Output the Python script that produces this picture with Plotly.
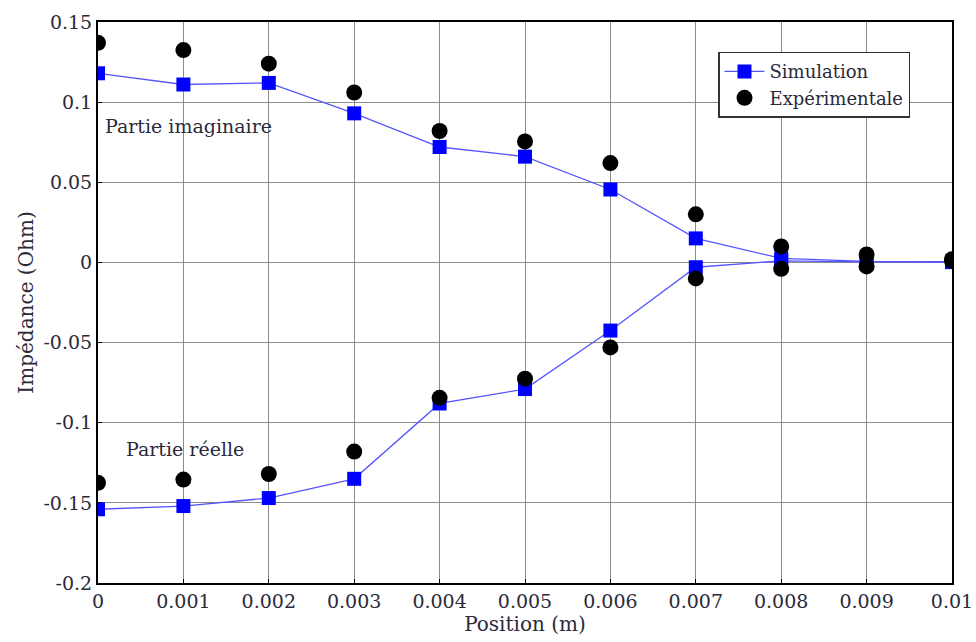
import plotly.graph_objects as go

positions = [0, 0.001, 0.002, 0.003, 0.004, 0.005, 0.006, 0.007, 0.008, 0.009, 0.01]
sim_imag = [0.118, 0.111, 0.112, 0.093, 0.072, 0.066, 0.0455, 0.015, 0.0025, 0.0007, 0.0005]
exp_imag = [0.137, 0.1325, 0.124, 0.106, 0.082, 0.0755, 0.062, 0.030, 0.010, 0.005, 0.002]
sim_real = [-0.154, -0.152, -0.147, -0.135, -0.088, -0.079, -0.0425, -0.003, 0.001, 0.0003, 0.0002]
exp_real = [-0.1375, -0.1355, -0.132, -0.118, -0.0845, -0.0725, -0.053, -0.010, -0.004, -0.0025, 0.001]

x_ticks = [0, 0.001, 0.002, 0.003, 0.004, 0.005, 0.006, 0.007, 0.008, 0.009, 0.01]
x_labels = ["0", "0.001", "0.002", "0.003", "0.004", "0.005", "0.006", "0.007", "0.008", "0.009", "0.01"]
y_ticks = [0.15, 0.1, 0.05, 0, -0.05, -0.1, -0.15, -0.2]
y_labels = ["0.15", "0.1", "0.05", "0", "-0.05", "-0.1", "-0.15", "-0.2"]

font = "DejaVu Serif"
txt = "#2a2a3a"
blue = "#0000ff"

fig = go.Figure()
fig.add_trace(go.Scatter(x=positions, y=sim_imag, mode="lines+markers", name="Simulation",
                         line=dict(color="#5555ff", width=1.3),
                         marker=dict(symbol="square", size=14, color=blue)))
fig.add_trace(go.Scatter(x=positions, y=sim_real, mode="lines+markers", name="Simulation",
                         showlegend=False,
                         line=dict(color="#5555ff", width=1.3),
                         marker=dict(symbol="square", size=14, color=blue)))
fig.add_trace(go.Scatter(x=positions, y=exp_imag, mode="markers", name="Expérimentale",
                         marker=dict(symbol="circle", size=16, color="black")))
fig.add_trace(go.Scatter(x=positions, y=exp_real, mode="markers", name="Expérimentale",
                         showlegend=False,
                         marker=dict(symbol="circle", size=16, color="black")))

fig.add_annotation(x=0.00006, y=0.085, xref="x", yref="y", text="Partie imaginaire",
                   showarrow=False, xanchor="left", font=dict(family=font, size=19, color=txt))
fig.add_annotation(x=0.0003, y=-0.1165, xref="x", yref="y", text="Partie réelle",
                   showarrow=False, xanchor="left", font=dict(family=font, size=19, color=txt))

fig.update_layout(
    width=976, height=642,
    margin=dict(l=98, r=24, t=22, b=59),
    paper_bgcolor="white", plot_bgcolor="white",
    font=dict(family=font, size=19, color=txt),
    showlegend=True,
    legend=dict(x=0.726, y=0.947, xanchor="left", yanchor="top",
                bgcolor="white", bordercolor="#333", borderwidth=1.5,
                font=dict(family=font, size=18, color=txt),
                tracegroupgap=0, itemwidth=40),
)
fig.update_xaxes(
    range=[0, 0.01], tickvals=x_ticks, ticktext=x_labels,
    showgrid=True, gridcolor="#8c8c8c", gridwidth=1,
    showline=True, linecolor="black", linewidth=2, mirror=True,
    ticks="inside", ticklen=4, tickcolor="black",
    tickfont=dict(family=font, size=19),
    zeroline=False, automargin=False,
    title=dict(text="Position (m)", font=dict(family=font, size=20), standoff=0),
)
fig.update_yaxes(
    range=[-0.2, 0.15], tickvals=y_ticks, ticktext=y_labels,
    showgrid=True, gridcolor="#8c8c8c", gridwidth=1,
    showline=True, linecolor="black", linewidth=2, mirror=True,
    ticks="inside", ticklen=4, tickcolor="black",
    tickfont=dict(family=font, size=19),
    zeroline=False, automargin=False,
    title=dict(text="Impédance (Ohm)", font=dict(family=font, size=20), standoff=4),
)

fig.write_html("out.html")
